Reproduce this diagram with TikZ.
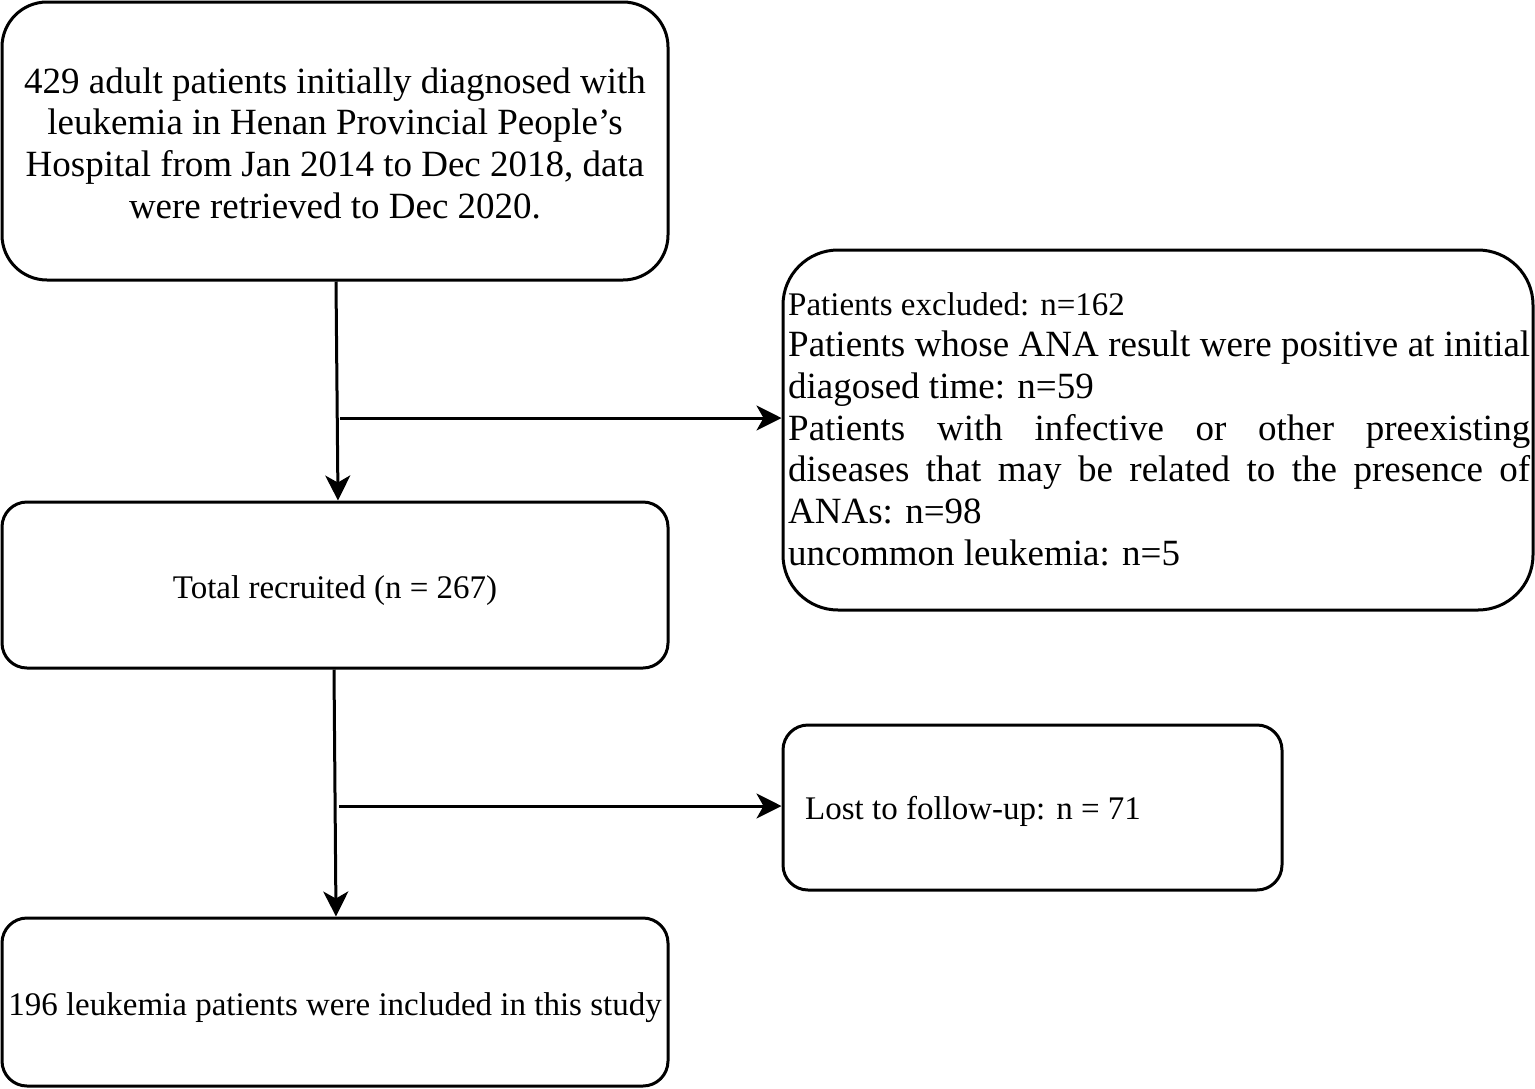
\documentclass[tikz,border=0pt]{standalone}
\usepackage{fontspec}
\setmainfont{Liberation Serif}
\usetikzlibrary{arrows.meta,calc}
\begin{document}
\begin{tikzpicture}[x=1pt,y=-1pt,
  box/.style={draw=black,line width=3pt,fill=white,inner sep=0pt},
  arr/.style={draw=black,line width=3pt,-{Stealth[length=25pt,width=25pt,inset=7pt]}},
  bigfont/.style={font=\fontsize{37}{41.7}\selectfont},
  midfont/.style={font=\fontsize{33}{41.5}\selectfont}]
\useasboundingbox (0,0) rectangle (1535,1088);
\node[box,rounded corners=45pt,minimum width=666pt,minimum height=278pt] (A) at (335,141) {};
\node[box,rounded corners=55pt,minimum width=750pt,minimum height=360pt] (B) at (1158,430) {};
\node[box,rounded corners=25pt,minimum width=666pt,minimum height=166pt] (C) at (335,585) {};
\node[box,rounded corners=25pt,minimum width=499pt,minimum height=165pt] (D) at (1032.5,807.5) {};
\node[box,rounded corners=25pt,minimum width=666pt,minimum height=168pt] (E) at (335,1002) {};
% texts
\node[bigfont,align=center,inner sep=0pt] (tA) at (335,143)
  {429 adult patients initially diagnosed with\\leukemia in Henan Provincial People’s\\Hospital from Jan 2014 to Dec 2018, data\\were retrieved to Dec 2020.};
\node[bigfont,align=left,inner sep=0pt,anchor=west] (tB) at (788,429)
  {{\fontsize{33}{41.5}\selectfont Patients excluded: n=162}\\
   \makebox[742pt][s]{Patients whose ANA result were positive at initial}\\
   diagosed time: n=59\\
   \makebox[742pt][s]{Patients with infective or other preexisting}\\
   \makebox[742pt][s]{diseases that may be related to the presence of}\\
   ANAs: n=98\\
   uncommon leukemia: n=5};
\node[midfont,inner sep=0pt] (tC) at (335,591) {Total recruited (n = 267)};
\node[midfont,inner sep=0pt,anchor=west] (tD) at (805,811) {Lost to follow-up: n = 71};
\node[midfont,inner sep=0pt] (tE) at (335,1008) {196 leukemia patients were included in this study};
% connectors
\draw[arr] ($(A.south)+(1,0)$) -- ($(C.north)+(3,0)$);
\coordinate (j1) at (340,418);
\draw[arr] (j1) -- (j1 -| B.west);
\draw[arr] ($(C.south)+(-1,0)$) -- ($(E.north)+(1,0)$);
\coordinate (j2) at (339,806);
\draw[arr] (j2) -- (j2 -| D.west);
\end{tikzpicture}
\end{document}
